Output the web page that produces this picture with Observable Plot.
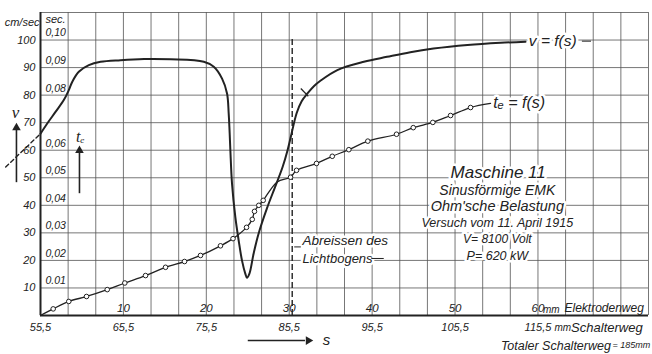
<!DOCTYPE html>
<html><head><meta charset="utf-8">
<script src="https://cdn.jsdelivr.net/npm/d3@7"></script>
<script src="https://cdn.jsdelivr.net/npm/@observablehq/plot@0.6"></script>
<style>
html,body{margin:0;padding:0;background:#fff;}
#chart svg{display:block;}
</style></head><body><div id="chart"></div>
<script>
// v = f(s): electrode travel (mm) vs speed (cm/sec)
const vE  = [0, 0.81, 1.81, 2.81, 3.41, 3.82, 4.62, 5.83, 7.24, 9.65, 12.5, 15.7, 19.7, 20.9, 21.9, 22.5, 22.7, 22.8, 22.9, 23.1, 23.5, 23.9, 24.3, 24.7, 24.9, 25.2, 25.7, 26.3, 27.3, 28.3, 29.2, 29.8, 30.2, 30.9, 31.5, 32.2, 33.0, 33.8, 35.8, 39.0, 41.8, 44.6, 47.4, 51.5, 55.5, 58.5];
const vCm = [66, 69.7, 73.9, 78.2, 81.8, 84.8, 88.5, 90.9, 92.1, 92.7, 93.1, 93.0, 92.1, 90.3, 86.0, 80.6, 73.3, 67.3, 60.0, 47.9, 35.7, 27.3, 20.0, 15.2, 13.7, 15.2, 22.4, 29.7, 38.8, 46.7, 53.9, 60.0, 65.0, 73.5, 77.8, 80.6, 83.3, 85.3, 89.1, 92.1, 93.9, 95.6, 96.9, 98.2, 99.0, 99.4];
// dashed extrapolation left of the axis
const vExtE  = [-4.2, 0];
const vExtCm = [53.9, 66];
// te = f(s): electrode travel (mm) vs time (sec); marked = measured point (circle)
const tE   = [0, 1.53, 3.41, 5.55, 8.05, 10.17, 12.67, 15.08, 17.37, 19.3, 21.71, 23.22, 24.85, 25.54, 25.81, 26.33, 26.86, 28.55, 30.16, 30.88, 33.29, 35.19, 37.19, 39.48, 42.94, 44.96, 47.32, 49.46, 51.87, 54.28];
const tSec = [0, 0.0024, 0.0051, 0.0069, 0.0094, 0.0118, 0.0145, 0.0175, 0.0196, 0.0218, 0.0253, 0.0279, 0.0320, 0.0349, 0.0378, 0.0400, 0.0418, 0.0485, 0.0502, 0.0527, 0.0552, 0.0578, 0.0602, 0.0633, 0.0658, 0.0682, 0.0701, 0.0726, 0.0755, 0.0770];
const tMarked = [0,1,1,1,1,1,1,1,1,1,1,1,1,1,1,1,1,0,1,1,1,1,1,1,1,1,1,1,1,0];

const vTicks = [10, 20, 30, 40, 50, 60, 70, 80, 90, 100];
const tTicks = [0.01, 0.02, 0.03, 0.04, 0.05, 0.06, 0.08, 0.09, 0.10];
const tTickLabels = ["0.01", "0,02", "0,03", "0,04", "0,05", "0,06", "0,08", "0,09", "0,10"];
const eTicks = [10, 20, 30, 40, 50, 60];
const eTickLabels = ["10", "20", "30", "40", "50", "60"];
const sTicks = [0, 10, 20, 30, 40, 50, 60];
const sTickLabels = ["55,5", "65,5", "75,5", "85,5", "95,5", "105,5", "115,5"];
const arcBreakE = 30.36;
const infoTitle = "Maschine 11";
const infoLines = ["Sinusförmige EMK", "Ohm'sche Belastung", "Versuch vom 11. April 1915", "V= 8100 Volt", "P= 620 kW"];

const vRows = vE.map((e, i) => ({e, v: vCm[i]}));
const vExtRows = vExtE.map((e, i) => ({e, v: vExtCm[i]}));
const tRows = tE.map((e, i) => ({e, t: tSec[i], marked: tMarked[i] === 1}));
const gridXTicks = d3.range(1, 23).map(i => i * 10 / 3);
const gridYTicks = d3.range(10, 111, 10);

const ink = "#222";
const gridCol = "#555";
const halo = {stroke: "white", strokeWidth: 5};
const infoSize = [14, 14.5, 12.5, 12, 12.5];

const chart = Plot.plot({
  width: 652, height: 354,
  marginLeft: 40, marginRight: 4, marginTop: 12, marginBottom: 39,
  x: {domain: [0, 220 / 3], axis: null},
  y: {domain: [0, 110], axis: null},
  style: {fontFamily: "'Liberation Sans', Arial, sans-serif", fontStyle: "italic", fontSize: "11px", color: ink, background: "white"},
  marks: [
    Plot.gridX(gridXTicks, {stroke: gridCol, strokeOpacity: 0.8, strokeWidth: 1}),
    Plot.gridY(gridYTicks, {stroke: gridCol, strokeOpacity: 0.8, strokeWidth: 1}),
    // info block (with white halo masking grid)
    Plot.text([infoTitle], {x: 55.2, y: 52, text: d => d, fontSize: 17, ...halo, fill: ink}),
    ...infoLines.map((line, i) => Plot.text([line], {x: 55.1, y: 45.5 - i * 5.95, text: d => d, fontSize: infoSize[i], ...halo, fill: ink})),
    Plot.text(["Abreissen des"], {x: 31.6, y: 27.3, text: d => d, textAnchor: "start", fontSize: 13.5, ...halo, fill: ink}),
    Plot.text(["Lichtbogens"], {x: 31.6, y: 20.7, text: d => d, textAnchor: "start", fontSize: 13, ...halo, fill: ink}),
    Plot.link([0], {x1: 39.9, x2: 41.4, y1: 20.7, y2: 20.7, stroke: ink, strokeWidth: 1}),
    Plot.link([0], {x1: 30.6, x2: 31.4, y1: 24.9, y2: 24.9, stroke: ink, strokeWidth: 1}),
    // frame axes
    Plot.ruleX([0], {stroke: ink, strokeWidth: 2}),
    Plot.ruleY([0], {stroke: ink, strokeWidth: 2}),
    // arc break dashed line
    Plot.ruleX([arcBreakE], {y1: 0, y2: 101, stroke: ink, strokeWidth: 1.4, strokeDasharray: "6,3"}),
    // curves
    Plot.line(vExtRows, {x: "e", y: "v", stroke: ink, strokeWidth: 1.4, strokeDasharray: "4,3"}),
    Plot.line(vRows, {x: "e", y: "v", curve: "catmull-rom", stroke: ink, strokeWidth: 2}),
    Plot.link([0], {x1: 31.4, y1: 82.4, x2: 32.3, y2: 79.6, stroke: ink, strokeWidth: 1.2}),
    Plot.line(tRows, {x: "e", y: d => d.t * 1000, curve: "catmull-rom", stroke: ink, strokeWidth: 1.3}),
    Plot.dot(tRows.filter(d => d.marked), {x: "e", y: d => d.t * 1000, r: 2.3, fill: "white", stroke: ink, strokeWidth: 1}),
    // curve labels
    Plot.text(["v = f(s)"], {x: 58.9, y: 99.6, text: d => d, textAnchor: "start", fontSize: 15.5, ...halo, fill: ink}),
    Plot.link([0], {x1: 65.3, x2: 66.4, y1: 99.6, y2: 99.6, stroke: ink, strokeWidth: 1}),
    Plot.text(["tₑ = f(s)"], {x: 54.6, y: 77.1, text: d => d, textAnchor: "start", fontSize: 16, ...halo, fill: ink}),
    // left axis labels
    Plot.text(vTicks, {x: 0, y: d => d, text: d => String(d), textAnchor: "end", dx: -5, fontSize: 11, fill: ink}),
    Plot.text(tTicks, {x: 0, y: d => d * 1000, text: (d, i) => tTickLabels[i], textAnchor: "start", dx: 5, dy: -7, fontSize: 10.5, fill: ink}),
    Plot.text(["cm/sec"], {x: 0, y: 106.5, text: d => d, textAnchor: "end", dx: -1, fontSize: 11, fill: ink}),
    Plot.text(["sec."], {x: 0, y: 107.3, text: d => d, textAnchor: "start", dx: 5, fontSize: 11, fill: ink}),
    // v and te indicators with arrows
    Plot.text(["v"], {x: -3.0, y: 73.8, text: d => d, fontSize: 17, fontFamily: "'Liberation Serif', serif", fill: ink}),
    Plot.link([0], {x1: -2.9, x2: -2.9, y1: 48.4, y2: 67.5, stroke: ink, strokeWidth: 1.6}),
    Plot.dot([0], {x: -2.9, y: 68.2, symbol: "triangle", r: 3.2, fill: ink, stroke: "none"}),
    Plot.text(["tₑ"], {x: 4.8, y: 64.9, text: d => d, fontSize: 16, fontFamily: "'Liberation Serif', serif", fill: ink}),
    Plot.link([0], {x1: 4.7, x2: 4.7, y1: 44.4, y2: 59.2, stroke: ink, strokeWidth: 1.6}),
    Plot.dot([0], {x: 4.7, y: 59.9, symbol: "triangle", r: 3.2, fill: ink, stroke: "none"}),
    // bottom labels: electrode travel (inside), switch travel (below)
    Plot.text(eTicks, {x: d => d, y: 0, text: (d, i) => eTickLabels[i], dy: -7, fontSize: 11.5, fill: ink}),
    Plot.text(["mm"], {x: 60.6, y: 0, text: d => d, textAnchor: "start", dy: -6, fontSize: 10, fill: ink}),
    Plot.text(["Elektrodenweg"], {x: 63.2, y: 0, text: d => d, textAnchor: "start", dy: -7, fontSize: 12, fill: ink}),
    Plot.text(sTicks, {x: d => d, y: 0, text: (d, i) => sTickLabels[i], dy: 12, fontSize: 11, fill: ink}),
    Plot.text(["mm"], {x: 62.0, y: 0, text: d => d, textAnchor: "start", dy: 12, fontSize: 10, fill: ink}),
    Plot.text(["Schalterweg"], {x: 64.0, y: 0, text: d => d, textAnchor: "start", dy: 12, fontSize: 13, fill: ink}),
    Plot.text(["Totaler Schalterweg"], {x: 68.8, y: 0, text: d => d, textAnchor: "end", dy: 30, fontSize: 12.5, fill: ink}),
    Plot.text(["= 185mm"], {x: 69.0, y: 0, text: d => d, textAnchor: "start", dy: 30, fontSize: 9, fill: ink}),
    // s arrow
    Plot.link([0], {x1: 25.0, x2: 31.9, y1: -9.1, y2: -9.1, stroke: ink, strokeWidth: 1.6}),
    Plot.dot([0], {x: 32.3, y: -9.1, symbol: "triangle", rotate: 90, r: 3.2, fill: ink, stroke: "none"}),
    Plot.text(["s"], {x: 34.5, y: -9.1, text: d => d, fontSize: 15, fill: ink})
  ]
});
document.getElementById("chart").append(chart);
</script></body></html>
